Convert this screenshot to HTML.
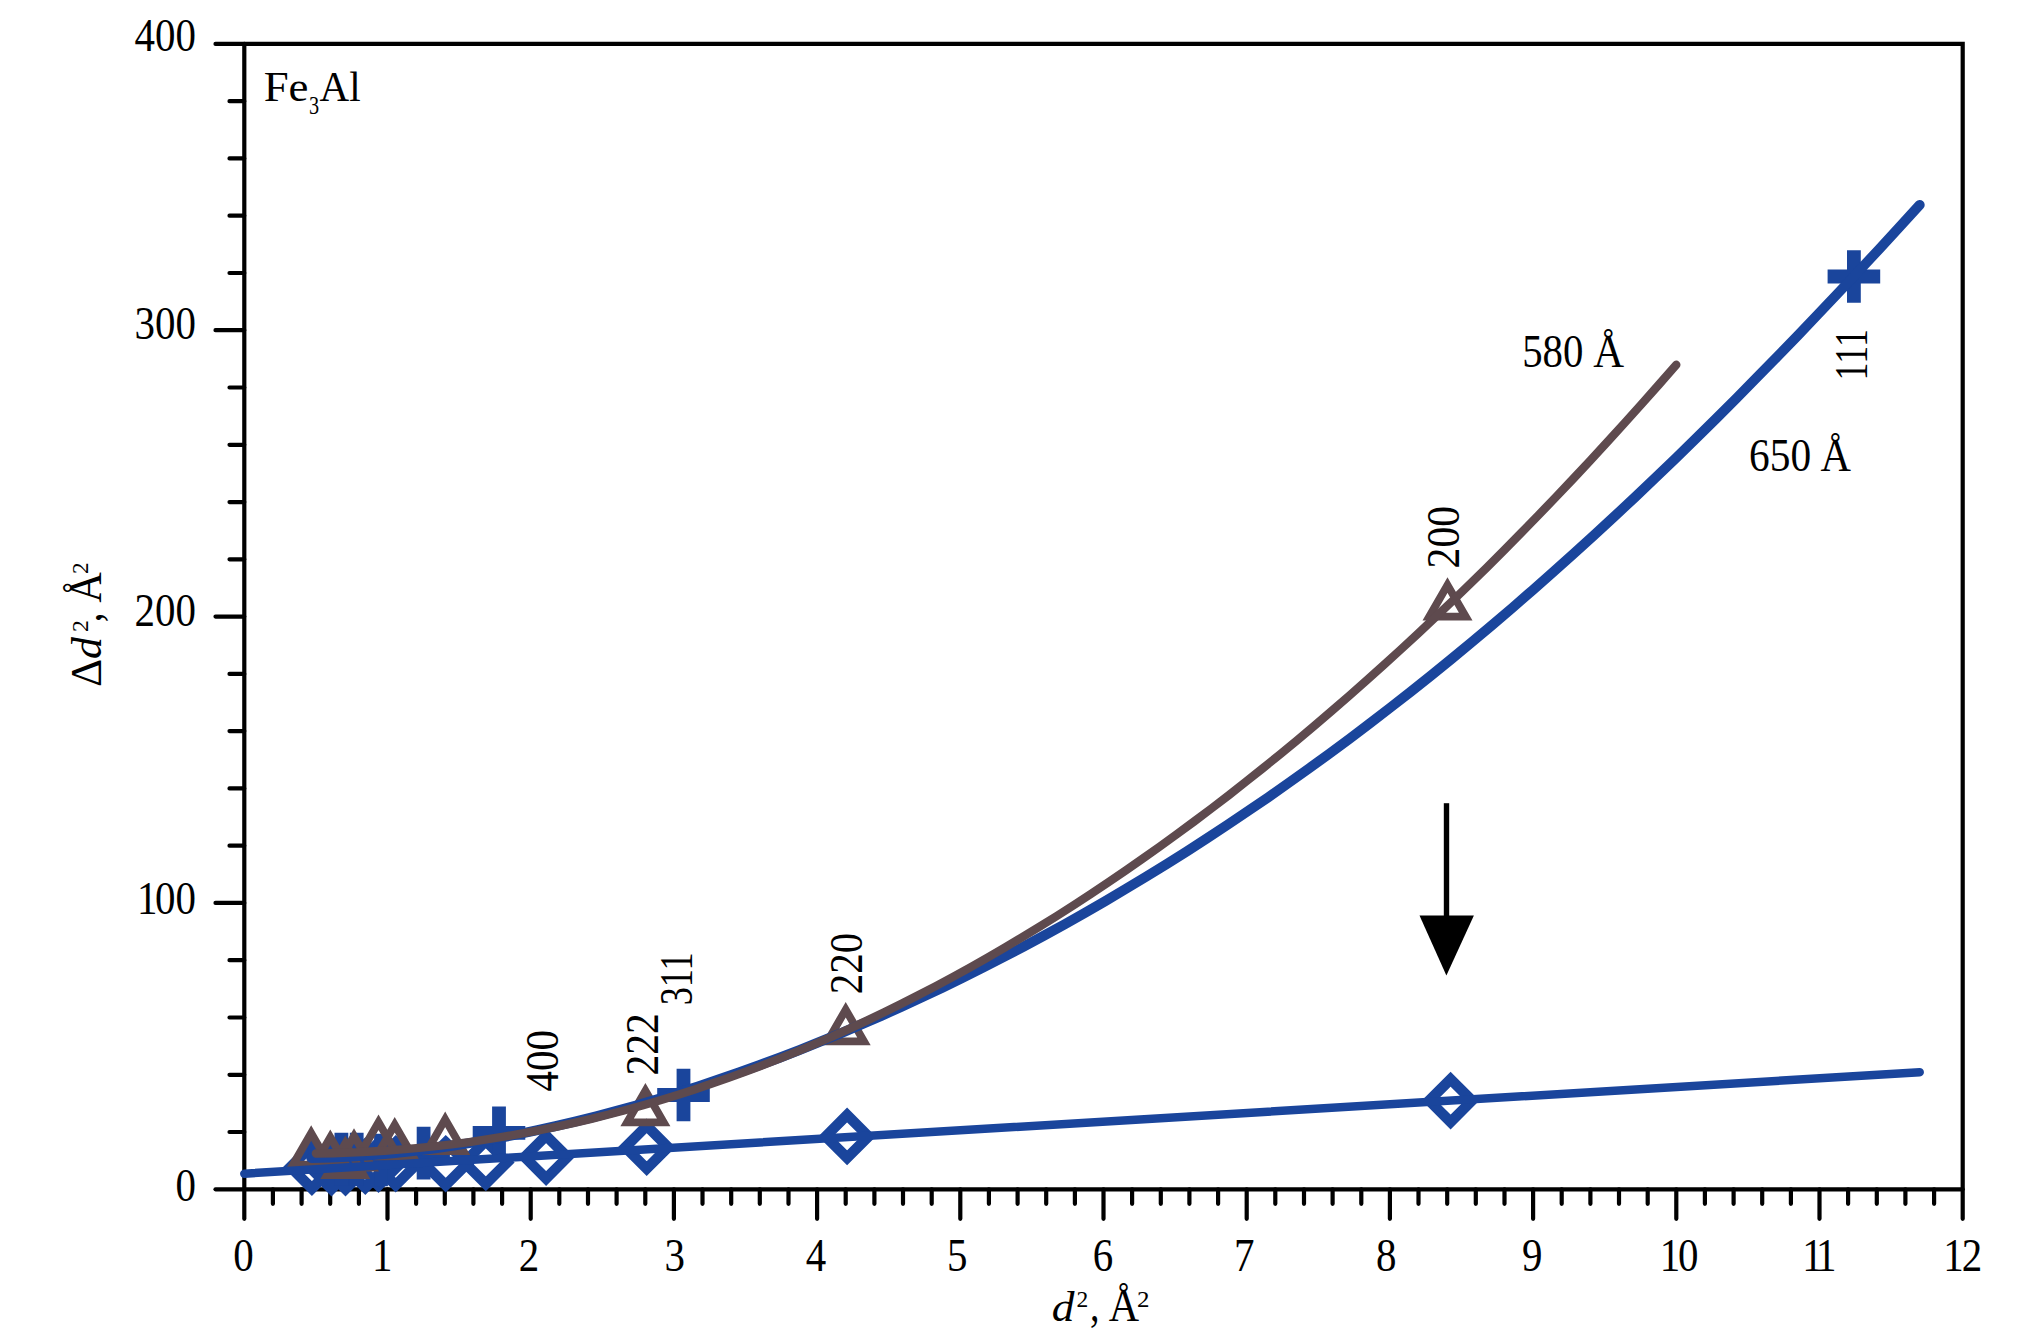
<!DOCTYPE html><html><head><meta charset="utf-8"><title>Fe3Al</title>
<style>html,body{margin:0;padding:0;background:#fff;overflow:hidden}svg{display:block}text{font-family:"Liberation Serif",serif;fill:#000}</style></head><body>
<svg width="2040" height="1335" viewBox="0 0 2040 1335">
<rect width="2040" height="1335" fill="#fff"/>
<g stroke="#000" stroke-width="4.2" stroke-linecap="round" fill="none">
<path d="M215.5 43.9H1962.7V1218.8"/>
<path d="M244.3 43.9V1218.8"/>
<path d="M215.5 1189.3H1962.7"/>
<path d="M229.5 1132.0H244.3M229.5 1074.8H244.3M229.5 1017.5H244.3M229.5 960.2H244.3M215.5 902.9H244.3M229.5 845.7H244.3M229.5 788.4H244.3M229.5 731.1H244.3M229.5 673.9H244.3M215.5 616.6H244.3M229.5 559.3H244.3M229.5 502.1H244.3M229.5 444.8H244.3M229.5 387.5H244.3M215.5 330.2H244.3M229.5 273.0H244.3M229.5 215.7H244.3M229.5 158.4H244.3M229.5 101.2H244.3"/>
<path d="M272.9 1189.3V1203.8M301.6 1189.3V1203.8M330.2 1189.3V1203.8M358.9 1189.3V1203.8M387.5 1189.3V1218.8M416.1 1189.3V1203.8M444.8 1189.3V1203.8M473.4 1189.3V1203.8M502.1 1189.3V1203.8M530.7 1189.3V1218.8M559.3 1189.3V1203.8M588.0 1189.3V1203.8M616.6 1189.3V1203.8M645.3 1189.3V1203.8M673.9 1189.3V1218.8M702.5 1189.3V1203.8M731.2 1189.3V1203.8M759.8 1189.3V1203.8M788.5 1189.3V1203.8M817.1 1189.3V1218.8M845.7 1189.3V1203.8M874.4 1189.3V1203.8M903.0 1189.3V1203.8M931.7 1189.3V1203.8M960.3 1189.3V1218.8M988.9 1189.3V1203.8M1017.6 1189.3V1203.8M1046.2 1189.3V1203.8M1074.9 1189.3V1203.8M1103.5 1189.3V1218.8M1132.1 1189.3V1203.8M1160.8 1189.3V1203.8M1189.4 1189.3V1203.8M1218.1 1189.3V1203.8M1246.7 1189.3V1218.8M1275.3 1189.3V1203.8M1304.0 1189.3V1203.8M1332.6 1189.3V1203.8M1361.3 1189.3V1203.8M1389.9 1189.3V1218.8M1418.5 1189.3V1203.8M1447.2 1189.3V1203.8M1475.8 1189.3V1203.8M1504.5 1189.3V1203.8M1533.1 1189.3V1218.8M1561.7 1189.3V1203.8M1590.4 1189.3V1203.8M1619.0 1189.3V1203.8M1647.7 1189.3V1203.8M1676.3 1189.3V1218.8M1704.9 1189.3V1203.8M1733.6 1189.3V1203.8M1762.2 1189.3V1203.8M1790.9 1189.3V1203.8M1819.5 1189.3V1218.8M1848.1 1189.3V1203.8M1876.8 1189.3V1203.8M1905.4 1189.3V1203.8M1934.1 1189.3V1203.8"/>
</g>
<path d="M311.9 1145.7L333.3 1167.1L311.9 1188.5L290.5 1167.1ZM331.5 1146.2L352.9 1167.6L331.5 1189.0L310.1 1167.6ZM345.5 1146.2L366.9 1167.6L345.5 1189.0L324.1 1167.6ZM365.3 1144.7L386.7 1166.1L365.3 1187.5L343.9 1166.1ZM378.5 1142.7L399.9 1164.1L378.5 1185.5L357.1 1164.1ZM395.7 1142.3L417.1 1163.7L395.7 1185.1L374.3 1163.7ZM445.7 1142.3L467.1 1163.7L445.7 1185.1L424.3 1163.7ZM485.8 1141.0L507.2 1162.4L485.8 1183.8L464.4 1162.4ZM546.1 1135.7L567.5 1157.1L546.1 1178.5L524.7 1157.1ZM646.7 1125.8L668.1 1147.2L646.7 1168.6L625.3 1147.2ZM847.1 1115.0L868.5 1136.4L847.1 1157.8L825.7 1136.4ZM1450.6 1079.2L1472.0 1100.6L1450.6 1122.0L1429.2 1100.6Z" stroke="#1a459c" stroke-width="10.5" stroke-linejoin="miter" fill="none"/>
<path d="M315.1 1159.1H367.7M341.4 1132.8V1185.4M330.4 1159.1H383.0M356.7 1132.8V1185.4M354.7 1160.0H407.3M381.0 1133.7V1186.3M397.3 1153.1H449.9M423.6 1126.8V1179.4M472.7 1132.8H525.3M499.0 1106.5V1159.1M657.2 1095.0H709.8M683.5 1068.7V1121.3M1827.6 276.5H1880.2M1853.9 250.2V302.8" stroke="#1a459c" stroke-width="13.8" fill="none"/>
<path d="M311.2 1133.1L329.45 1164.7L292.95 1164.7ZM330.3 1137.3L348.55 1168.9L312.05 1168.9ZM354.0 1136.0L372.25 1167.6L335.75 1167.6ZM378.5 1122.3L396.75 1153.9L360.25 1153.9ZM394.7 1124.8L412.95 1156.4L376.45 1156.4ZM445.2 1119.4L463.45 1151.0L426.95 1151.0ZM345.3 1143.4L363.55 1175.0L327.05 1175.0ZM645.4 1090.7L663.65 1122.3L627.15 1122.3ZM845.7 1009.7L863.95 1041.3L827.45 1041.3ZM1447.5 585.1L1465.75 616.7L1429.25 616.7Z" stroke="#5e4a4e" stroke-width="7.8" stroke-linejoin="miter" stroke-miterlimit="10" fill="none"/>
<path d="M244.3 1173.7L1919.7 1072.2" stroke="#1a459c" stroke-width="8.5" stroke-linecap="round" fill="none"/>
<path d="M311.2 1157.9L331.5 1157.4L351.9 1156.4L372.3 1155.0L392.6 1153.2L413.0 1151.0L433.3 1148.5L453.7 1145.6L474.1 1142.4L494.4 1138.8L514.8 1134.9L535.2 1130.7L555.5 1126.2L575.9 1121.4L596.2 1116.3L616.6 1110.9L637.0 1105.2L657.3 1099.2L677.7 1092.9L698.0 1086.4L718.4 1079.6L738.8 1072.6L759.1 1065.2L779.5 1057.7L799.9 1049.8L820.2 1041.7L840.6 1033.3L860.9 1024.7L881.3 1015.8L901.7 1006.7L922.0 997.3L942.4 987.7L962.7 977.7L983.1 967.6L1003.5 957.1L1023.8 946.5L1044.2 935.5L1064.6 924.3L1084.9 912.8L1105.3 901.1L1125.6 889.0L1146.0 876.8L1166.4 864.2L1186.7 851.4L1207.1 838.3L1227.4 824.9L1247.8 811.2L1268.2 797.3L1288.5 783.0L1308.9 768.5L1329.3 753.7L1349.6 738.7L1370.0 723.3L1390.3 707.6L1410.7 691.7L1431.1 675.5L1451.4 659.0L1471.8 642.1L1492.1 625.1L1512.5 607.7L1532.9 590.0L1553.2 572.1L1573.6 553.8L1594.0 535.3L1614.3 516.5L1634.7 497.5L1655.0 478.2L1675.4 458.6L1695.8 438.7L1716.1 418.6L1736.5 398.2L1756.8 377.6L1777.2 356.8L1797.6 335.7L1817.9 314.4L1838.3 292.9L1858.7 271.2L1879.0 249.3L1899.4 227.2L1919.7 204.9" stroke="#1a459c" stroke-width="10" stroke-linecap="round" stroke-linejoin="round" fill="none"/>
<path d="M315.9 1153.5L333.1 1153.2L350.3 1152.6L367.6 1151.8L384.8 1150.7L402.0 1149.4L419.2 1147.9L436.4 1146.1L453.7 1144.1L470.9 1141.8L488.1 1139.2L505.3 1136.4L522.5 1133.4L539.8 1130.1L557.0 1126.6L574.2 1122.8L591.4 1118.8L608.6 1114.5L625.9 1110.0L643.1 1105.2L660.3 1100.2L677.5 1094.9L694.7 1089.4L712.0 1083.6L729.2 1077.6L746.4 1071.4L763.6 1064.8L780.8 1058.1L798.1 1051.1L815.3 1043.8L832.5 1036.3L849.7 1028.6L866.9 1020.6L884.2 1012.3L901.4 1003.8L918.6 995.1L935.8 986.1L953.0 976.9L970.3 967.4L987.5 957.6L1004.7 947.6L1021.9 937.4L1039.2 926.9L1056.4 916.2L1073.6 905.2L1090.8 894.0L1108.0 882.5L1125.3 870.8L1142.5 858.8L1159.7 846.6L1176.9 834.2L1194.1 821.5L1211.4 808.5L1228.6 795.3L1245.8 781.8L1263.0 768.1L1280.2 754.2L1297.5 740.0L1314.7 725.5L1331.9 710.8L1349.1 695.9L1366.3 680.7L1383.6 665.2L1400.8 649.5L1418.0 633.6L1435.2 617.4L1452.4 601.0L1469.7 584.3L1486.9 567.4L1504.1 550.2L1521.3 532.8L1538.5 515.1L1555.8 497.2L1573.0 479.0L1590.2 460.6L1607.4 441.9L1624.6 423.0L1641.9 403.8L1659.1 384.4L1676.3 364.8" stroke="#5e4a4e" stroke-width="8.4" stroke-linecap="round" stroke-linejoin="round" fill="none"/>
<path d="M1446.5 803.2V920" stroke="#000" stroke-width="5.4" fill="none"/>
<path d="M1419.5 915.5H1473.9L1446.4 975.5Z" fill="#000"/>
<text transform="translate(196.0 51.3) scale(0.89 1)" font-size="46" text-anchor="end">400</text>
<text transform="translate(196.0 338.8) scale(0.89 1)" font-size="46" text-anchor="end">300</text>
<text transform="translate(196.0 625.7) scale(0.89 1)" font-size="46" text-anchor="end">200</text>
<text transform="translate(196.0 914.0) scale(0.89 1)" font-size="46" text-anchor="end" dx="0 -2.6 0">100</text>
<text transform="translate(196.0 1200.5) scale(0.89 1)" font-size="46" text-anchor="end">0</text>
<text transform="translate(243.4 1270.5) scale(0.89 1)" font-size="46" text-anchor="middle">0</text>
<text transform="translate(382.3 1270.5) scale(0.89 1)" font-size="46" text-anchor="middle">1</text>
<text transform="translate(529.0 1270.5) scale(0.89 1)" font-size="46" text-anchor="middle">2</text>
<text transform="translate(674.7 1270.5) scale(0.89 1)" font-size="46" text-anchor="middle">3</text>
<text transform="translate(816.0 1270.5) scale(0.89 1)" font-size="46" text-anchor="middle">4</text>
<text transform="translate(957.3 1270.5) scale(0.89 1)" font-size="46" text-anchor="middle">5</text>
<text transform="translate(1103.0 1270.5) scale(0.89 1)" font-size="46" text-anchor="middle">6</text>
<text transform="translate(1244.3 1270.5) scale(0.89 1)" font-size="46" text-anchor="middle">7</text>
<text transform="translate(1386.2 1270.5) scale(0.89 1)" font-size="46" text-anchor="middle">8</text>
<text transform="translate(1532.3 1270.5) scale(0.89 1)" font-size="46" text-anchor="middle">9</text>
<text transform="translate(1679.2 1270.5) scale(0.89 1)" font-size="46" text-anchor="middle" dx="0 -2.5">10</text>
<text transform="translate(1819.4 1270.5) scale(0.89 1)" font-size="46" text-anchor="middle" dx="0 -6">11</text>
<text transform="translate(1962.7 1270.5) scale(0.89 1)" font-size="46" text-anchor="middle" dx="0 -2">12</text>
<text transform="translate(263.66 101.10) scale(1.0415 1)" font-size="43">Fe</text>
<text transform="translate(309.09 113.60) scale(0.8091 1)" font-size="25">3</text>
<text transform="translate(319.50 101.10) scale(0.9548 1)" font-size="43">Al</text>
<text transform="translate(1051.74 1321.30) scale(1.0571 1)" font-size="43" font-style="italic">d</text>
<text transform="translate(1076.62 1306.80) scale(0.9800 1)" font-size="24">2</text>
<text transform="translate(1089.88 1321.00) scale(0.8250 1)" font-size="46">,</text>
<text transform="translate(1108.70 1321.00) scale(0.9121 1)" font-size="46">Å</text>
<text transform="translate(1137.06 1306.80) scale(1.0400 1)" font-size="24">2</text>
<text transform="translate(100.90 687.00) rotate(-90) scale(0.9962 1)" font-size="44">Δ</text>
<text transform="translate(101.10 658.92) rotate(-90) scale(1.0190 1)" font-size="43" font-style="italic">d</text>
<text transform="translate(88.00 631.89) rotate(-90) scale(0.9900 1)" font-size="24">2</text>
<text transform="translate(100.90 622.14) rotate(-90) scale(0.8375 1)" font-size="46">,</text>
<text transform="translate(100.90 602.80) rotate(-90) scale(0.9182 1)" font-size="46">Å</text>
<text transform="translate(88.00 573.97) rotate(-90) scale(0.9700 1)" font-size="24">2</text>
<text transform="translate(1522.13 366.80) scale(0.8864 1)" font-size="46">580</text>
<text transform="translate(1593.30 366.80) scale(0.9273 1)" font-size="46">Å</text>
<text transform="translate(1749.00 470.80) scale(0.9000 1)" font-size="46">650</text>
<text transform="translate(1820.60 470.80) scale(0.9152 1)" font-size="46">Å</text>
<text transform="translate(1867.20 380.43) rotate(-90) scale(0.7831 1)" font-size="46">111</text>
<text transform="translate(1459.20 568.42) rotate(-90) scale(0.9076 1)" font-size="46">200</text>
<text transform="translate(862.00 994.18) rotate(-90) scale(0.8879 1)" font-size="46">220</text>
<text transform="translate(691.80 1005.27) rotate(-90) scale(0.7873 1)" font-size="46">311</text>
<text transform="translate(657.90 1075.40) rotate(-90) scale(0.9015 1)" font-size="46">222</text>
<text transform="translate(557.80 1091.39) rotate(-90) scale(0.8910 1)" font-size="46">400</text>
</svg></body></html>
